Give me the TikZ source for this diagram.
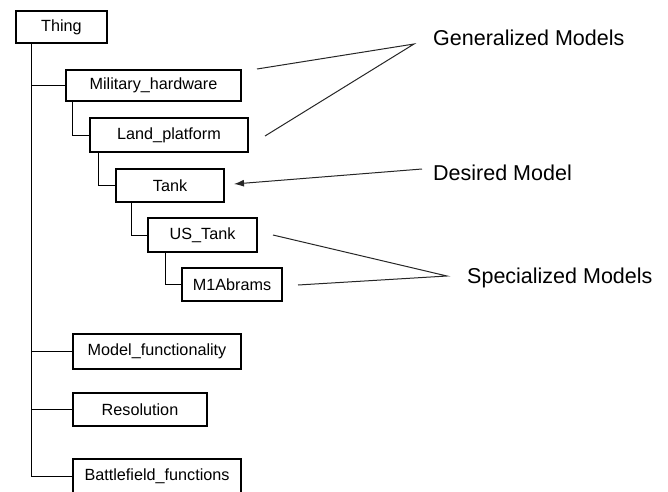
\documentclass[tikz,border=0pt]{standalone}
\usepackage{fontspec}
\setmainfont{Liberation Sans}
\usetikzlibrary{arrows.meta,calc}
\begin{document}
\begin{tikzpicture}[x=1pt,y=-1pt,
  box/.style={draw=black,line width=1.1pt,rectangle,inner sep=0pt,font=\fontsize{16.2}{18}\selectfont},
  conn/.style={draw=black,line width=1pt},
  lbl/.style={anchor=west,inner sep=0pt,font=\fontsize{21.5}{24}\selectfont},
  pointer/.style={draw=black!85,line width=1pt}]
\useasboundingbox (0,0) rectangle (668,491);
% boxes
\node[box,minimum width=91pt,minimum height=32pt] (thing) at (61.5,27) {Thing};
\node[box,minimum width=175pt,minimum height=31pt] (mh) at (153.5,85.5) {Military\_hardware\hspace{11pt}};
\node[box,minimum width=158pt,minimum height=34pt] (lp) at (169,135) {Land\_platform\hspace{16pt}};
\node[box,minimum width=108pt,minimum height=33pt] (tank) at (170,185.5) {Tank\hspace{24pt}};
\node[box,minimum width=109pt,minimum height=34pt] (us) at (202.5,235) {US\_Tank\hspace{5pt}};
\node[box,minimum width=100pt,minimum height=33pt] (m1) at (232,284.5) {M1Abrams};
\node[box,minimum width=168pt,minimum height=35pt] (mf) at (157,351.5) {Model\_functionality\hspace{8pt}};
\node[box,minimum width=134pt,minimum height=33pt] (res) at (140,409.5) {Resolution\hspace{5pt}};
\node[box,minimum width=168pt,minimum height=34pt] (bf) at (157,476) {Battlefield\_functions};
% tree connectors
\draw[conn] (thing.south west) ++(16,0) |- (bf.west);
\draw[conn] (thing.south west) ++(16,0) |- (mh.west);
\draw[conn] (thing.south west) ++(16,0) |- (mf.west);
\draw[conn] (thing.south west) ++(16,0) |- (res.west);
\draw[conn] (mh.south west) ++(7,0) |- (lp.west);
\draw[conn] (lp.south west) ++(9,0) |- (tank.west);
\draw[conn] (tank.south west) ++(16,0) |- (us.west);
\draw[conn] (us.south west) ++(18,0) |- (m1.west);
% labels
\node[lbl] (gen) at (433,38) {Generalized Models};
\node[lbl] (des) at (433,173) {Desired Model};
\node[lbl] (spec) at (467,278) {Specialized Models};
\coordinate (gtip) at (414,44);
\coordinate (gA) at (257,69);
\coordinate (gB) at (265,136);
\coordinate (dS) at (422,169);
\coordinate (dT) at (234,184);
\coordinate (stip) at (447,276);
\coordinate (sA) at (273,235);
\coordinate (sB) at (298,285);
\draw[pointer] (gA) -- (gtip) -- (gB);
\draw[pointer,-{Latex[length=10pt,width=7pt]}] (dS) -- (dT);
\draw[pointer] (sA) -- (stip) -- (sB);
\end{tikzpicture}
\end{document}
